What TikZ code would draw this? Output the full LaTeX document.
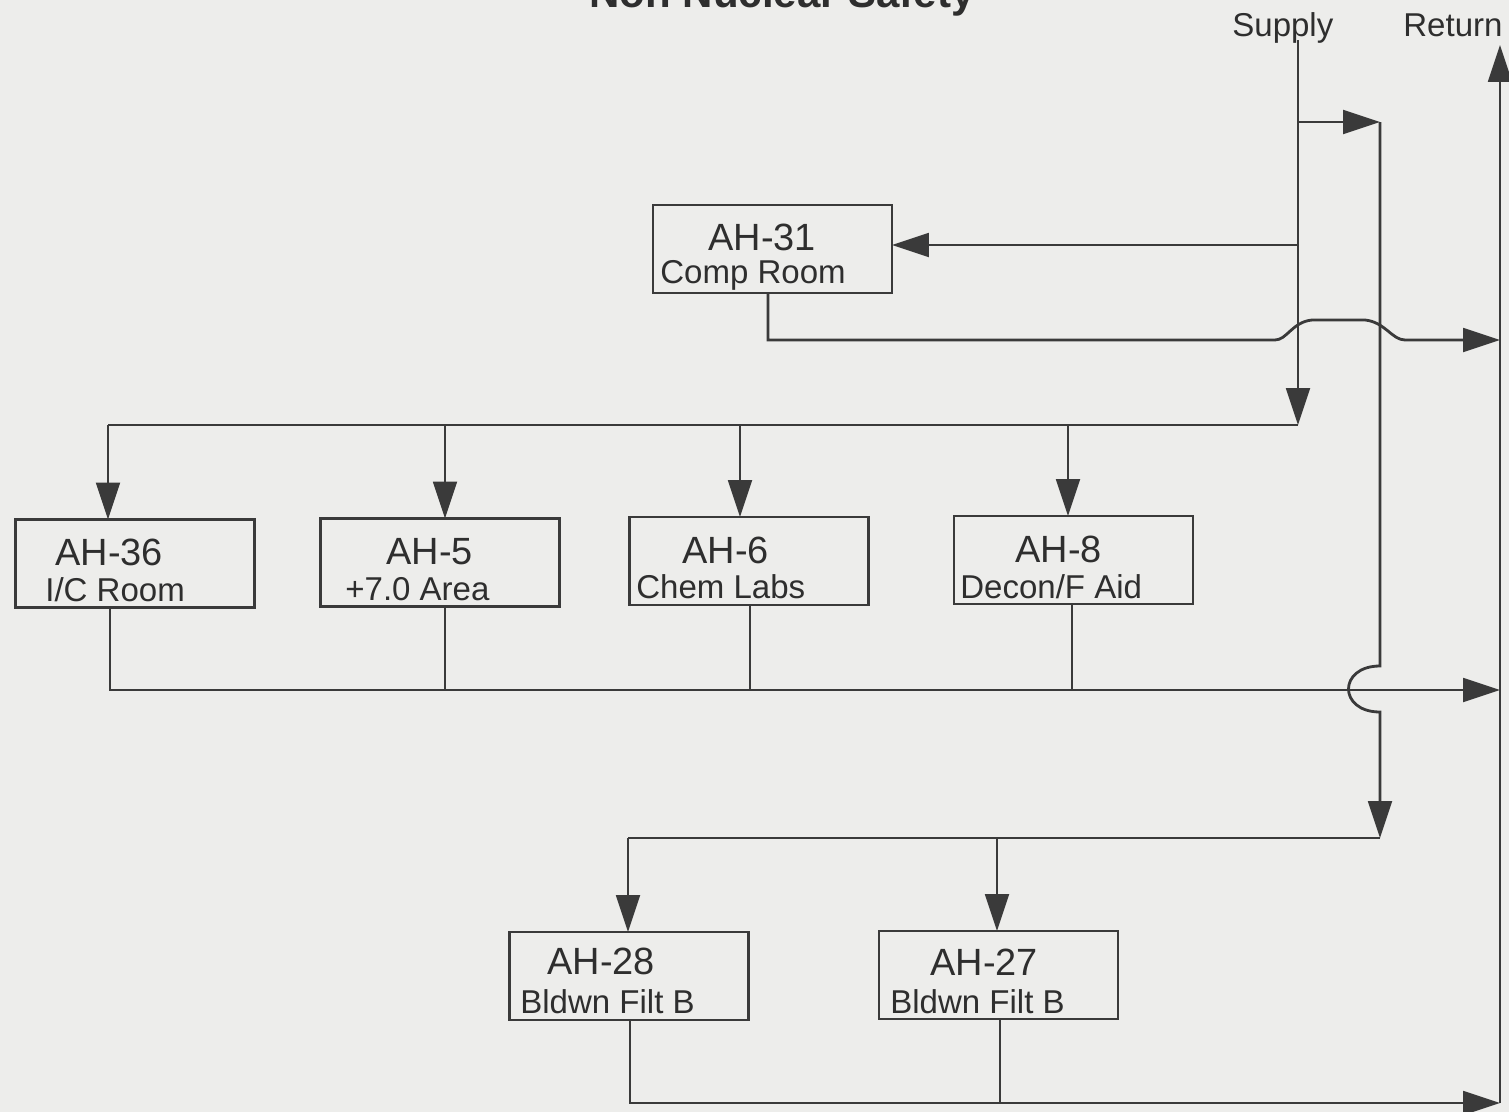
\documentclass[tikz,border=0pt]{standalone}
\usepackage{fontspec}
\setmainfont{Liberation Sans}
\usetikzlibrary{arrows.meta}
\definecolor{bgc}{HTML}{EDEDEB}
\definecolor{ink}{HTML}{3A3A3A}
\definecolor{txt}{HTML}{2E2E2E}
\tikzset{
  wire/.style={draw=ink, line width=1.6pt},
  arr/.style={wire, -{Triangle[length=21pt,width=13.5pt]}},
  box/.style={draw=ink, line width=1.6pt, rectangle, minimum width=4.78cm, minimum height=1.76cm, inner sep=0pt, outer sep=0pt},
  big/.style={text=txt, anchor=base west, inner sep=0pt, font=\fontsize{21.6}{24}\selectfont},
  small/.style={text=txt, anchor=base west, inner sep=0pt, font=\fontsize{18.8}{21}\selectfont},
  ttl/.style={text=txt, anchor=base, inner sep=0pt, font=\fontsize{23.9}{26}\selectfont\bfseries}
}
\begin{document}
\begin{tikzpicture}[x=0.02cm,y=-0.02cm]
\clip (0,0) rectangle (1509,1112);
\useasboundingbox (0,0) rectangle (1509,1112);
\fill[bgc] (0,0) rectangle (1509,1112);

% title and headers
\node[ttl] (title) at (782,8) {Non Nuclear Safety};
\node[small] (suplbl) at (1232,36) {Supply};
\node[small] (retlbl) at (1403,36) {Return};

% boxes
\node[box] (ah31) at (772.5,249) {};
\node[box] (ah36) at (135,563.5) {};
\node[box] (ah5) at (440,562.5) {};
\node[box] (ah6) at (749,561) {};
\node[box] (ah8) at (1073.5,560) {};
\node[box] (ah28) at (629,976) {};
\node[box] (ah27) at (998.5,975) {};

% box texts
\node[big] (t31a) at (708,250) {AH-31};
\node[small] (t31b) at (660,283) {Comp Room};
\node[big] (t36a) at (55,565) {AH-36};
\node[small] (t36b) at (45,601) {I/C Room};
\node[big] (t5a) at (386,564) {AH-5};
\node[small] (t5b) at (345,600) {+7.0 Area};
\node[big] (t6a) at (682,563) {AH-6};
\node[small] (t6b) at (636,598) {Chem Labs};
\node[big] (t8a) at (1015,562) {AH-8};
\node[small] (t8b) at (960,598) {Decon/F Aid};
\node[big] (t28a) at (547,974) {AH-28};
\node[small] (t28b) at (520,1013) {Bldwn Filt B};
\node[big] (t27a) at (930,975) {AH-27};
\node[small] (t27b) at (890,1013) {Bldwn Filt B};

% supply coordinates
\coordinate (stop) at (1298,40);
\coordinate (s122) at (1298,122);
\coordinate (s245) at (1298,245);
\coordinate (shead) at (1298,425);
\coordinate (s36) at (108,425);
\coordinate (s5) at (445,425);
\coordinate (s6) at (740,425);
\coordinate (s8) at (1068,425);
\coordinate (b122) at (1380,122);
\coordinate (bh1) at (1380,666);
\coordinate (bh2) at (1380,712);
\coordinate (bbot) at (1380,838);
\coordinate (s28) at (628,838);
\coordinate (s27) at (997,838);

% return coordinates
\coordinate (rtop) at (1500,45);
\coordinate (r31) at (768,340);
\coordinate (r31e) at (1500,340);
\coordinate (r36) at (110,690);
\coordinate (r5) at (445,690);
\coordinate (r6) at (750,690);
\coordinate (r8) at (1072,690);
\coordinate (rmid) at (1500,690);
\coordinate (r28) at (630,1103);
\coordinate (r27) at (1000,1103);
\coordinate (rbot) at (1500,1103);

% supply main riser
\draw[arr] (stop) -- (shead);
\draw[wire] (shead) -- (s36);
\draw[arr] (s36) -- (s36 |- ah36.north);
\draw[arr] (s5) -- (s5 |- ah5.north);
\draw[arr] (s6) -- (s6 |- ah6.north);
\draw[arr] (s8) -- (s8 |- ah8.north);
\draw[arr] (s245) -- (ah31.east |- s245);

% supply branch
\draw[arr] (s122) -- (b122);
\draw[arr] (b122) -- (bh1) .. controls (1338,666) and (1338,712) .. (bh2) -- (bbot);
\draw[wire] (bbot) -- (s28);
\draw[arr] (s28) -- (s28 |- ah28.north);
\draw[arr] (s27) -- (s27 |- ah27.north);

% returns
\draw[arr] (ah31.south -| r31) -- (r31) -- (1275,340)
  .. controls (1287,340) and (1292,322) .. (1312,320)
  -- (1365,320)
  .. controls (1385,322) and (1392,340) .. (1405,340) -- (r31e);
\draw[arr] (ah36.south -| r36) -- (r36) -- (rmid);
\draw[wire] (ah5.south -| r5) -- (r5);
\draw[wire] (ah6.south -| r6) -- (r6);
\draw[wire] (ah8.south -| r8) -- (r8);
\draw[arr] (ah28.south -| r28) -- (r28) -- (rbot);
\draw[wire] (ah27.south -| r27) -- (r27);
\draw[arr] (rbot) -- (rtop);
\end{tikzpicture}
\end{document}
